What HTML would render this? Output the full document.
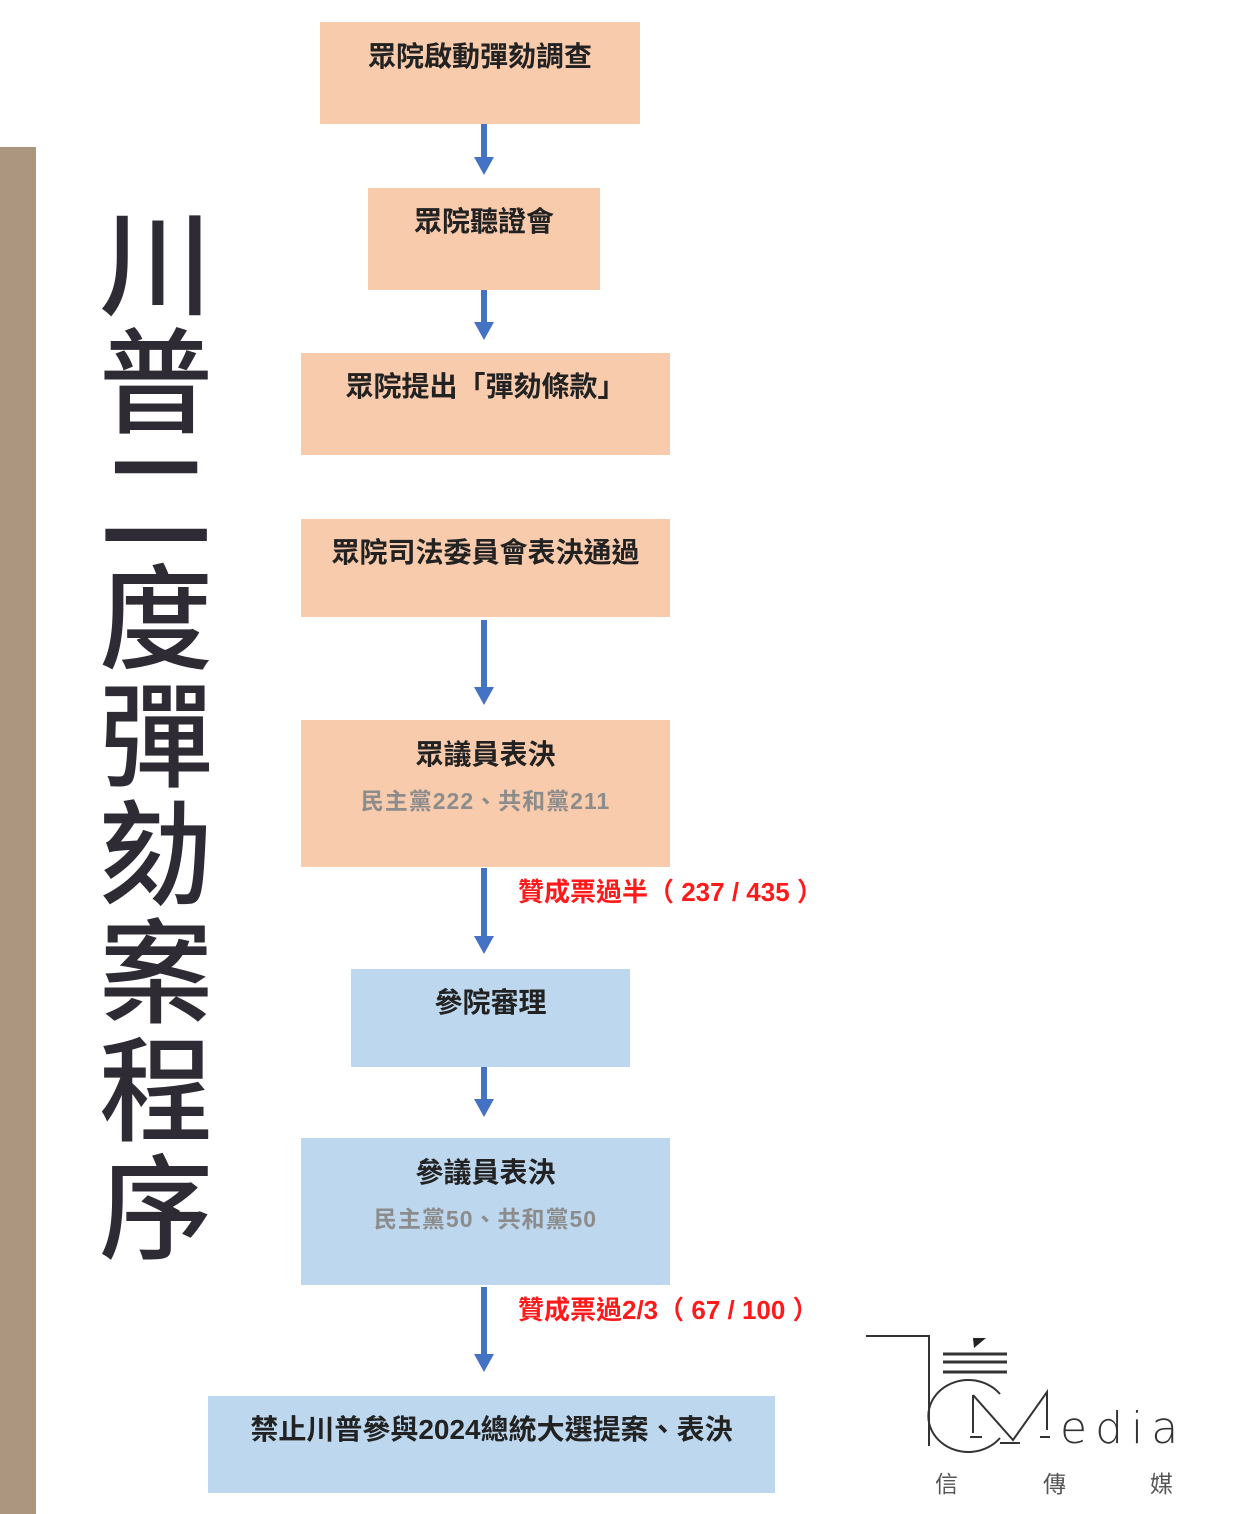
<!DOCTYPE html>
<html><head><meta charset="utf-8"><style>
body{margin:0;width:1234px;height:1514px;background:#fff;position:relative;overflow:hidden;font-family:"Liberation Sans","Noto Sans CJK TC",sans-serif}
.bar{position:absolute;left:0;top:147px;width:36px;height:1367px;background:#ad9680}
.title{position:absolute;left:96px;top:198px;width:120px;font-size:114px;line-height:118px;color:#2e2b35;text-align:center;font-family:"Noto Sans CJK TC",sans-serif;font-weight:500}
.b{position:absolute;box-sizing:border-box;text-align:center;font-weight:bold;font-size:28px;color:#222;font-family:"Liberation Sans","Noto Sans CJK TC",sans-serif}
.p{background:#f8cbad}.u{background:#bdd7ee}
.b .m{position:absolute;left:0;right:0;line-height:30px}
.b .s{position:absolute;left:0;right:0;line-height:30px;color:#8c8c8c;font-size:23px;letter-spacing:1px}
.a{position:absolute;left:481px;width:6px;background:#4472c4}
.h{position:absolute;left:474px;width:0;height:0;border-left:10px solid transparent;border-right:10px solid transparent;border-top:18px solid #4472c4}
.r{position:absolute;left:518px;color:#ff1a1a;font-weight:bold;font-size:26px;font-family:"Liberation Sans","Noto Sans CJK TC",sans-serif;line-height:30px}
</style></head><body>
<div class="bar"></div>
<div class="title">川<br>普<br>二<br>度<br>彈<br>劾<br>案<br>程<br>序</div>

<div class="b p" style="left:320px;top:22px;width:320px;height:102px"><div class="m" style="top:20px">眾院啟動彈劾調查</div></div>
<div class="b p" style="left:368px;top:188px;width:232px;height:102px"><div class="m" style="top:19px">眾院聽證會</div></div>
<div class="b p" style="left:301px;top:353px;width:369px;height:102px"><div class="m" style="top:19px">眾院提出「彈劾條款」</div></div>
<div class="b p" style="left:301px;top:519px;width:369px;height:98px"><div class="m" style="top:19px">眾院司法委員會表決通過</div></div>
<div class="b p" style="left:301px;top:720px;width:369px;height:147px"><div class="m" style="top:20px">眾議員表決</div><div class="s" style="top:66px">民主黨222、共和黨211</div></div>
<div class="b u" style="left:351px;top:969px;width:279px;height:98px"><div class="m" style="top:19px">參院審理</div></div>
<div class="b u" style="left:301px;top:1138px;width:369px;height:147px"><div class="m" style="top:20px">參議員表決</div><div class="s" style="top:66px">民主黨50、共和黨50</div></div>
<div class="b u" style="left:208px;top:1396px;width:567px;height:97px"><div class="m" style="top:19px">禁止川普參與2024總統大選提案、表決</div></div>

<div class="a" style="top:124px;height:36px"></div><div class="h" style="top:157px"></div>
<div class="a" style="top:290px;height:34px"></div><div class="h" style="top:322px"></div>
<div class="a" style="top:620px;height:70px"></div><div class="h" style="top:687px"></div>
<div class="a" style="top:868px;height:70px"></div><div class="h" style="top:936px"></div>
<div class="a" style="top:1067px;height:34px"></div><div class="h" style="top:1099px"></div>
<div class="a" style="top:1287px;height:70px"></div><div class="h" style="top:1354px"></div>

<div class="r" style="top:877px">贊成票過半（ 237 / 435 ）</div>
<div class="r" style="top:1295px">贊成票過2/3（ 67 / 100 ）</div>

<svg style="position:absolute;left:860px;top:1320px" width="340" height="190" viewBox="0 0 340 190">
<g stroke="#333" fill="none" stroke-width="2">
<path d="M6 16H69V126"/>
<path d="M83 34H147M83 42H147M83 52H147" stroke-width="3"/>
<path d="M140 74A40 36 0 1 0 140 118"/>
<path d="M113 75V113M113 75L153 120L187 72V110"/>
<path d="M110 117H122M140 123H160M180 117H190"/>
</g>
<path d="M113 18L126 18L114 28Z" fill="#222"/>
<text x="200" y="123" font-family="DejaVu Sans,sans-serif" font-size="44" fill="#333" letter-spacing="8" font-weight="300">edia</text>
<text x="75" y="172" font-family="Noto Sans CJK TC,sans-serif" font-size="23" fill="#555">信</text>
<text x="183" y="172" font-family="Noto Sans CJK TC,sans-serif" font-size="23" fill="#555">傳</text>
<text x="290" y="172" font-family="Noto Sans CJK TC,sans-serif" font-size="23" fill="#555">媒</text>
</svg>
</body></html>
